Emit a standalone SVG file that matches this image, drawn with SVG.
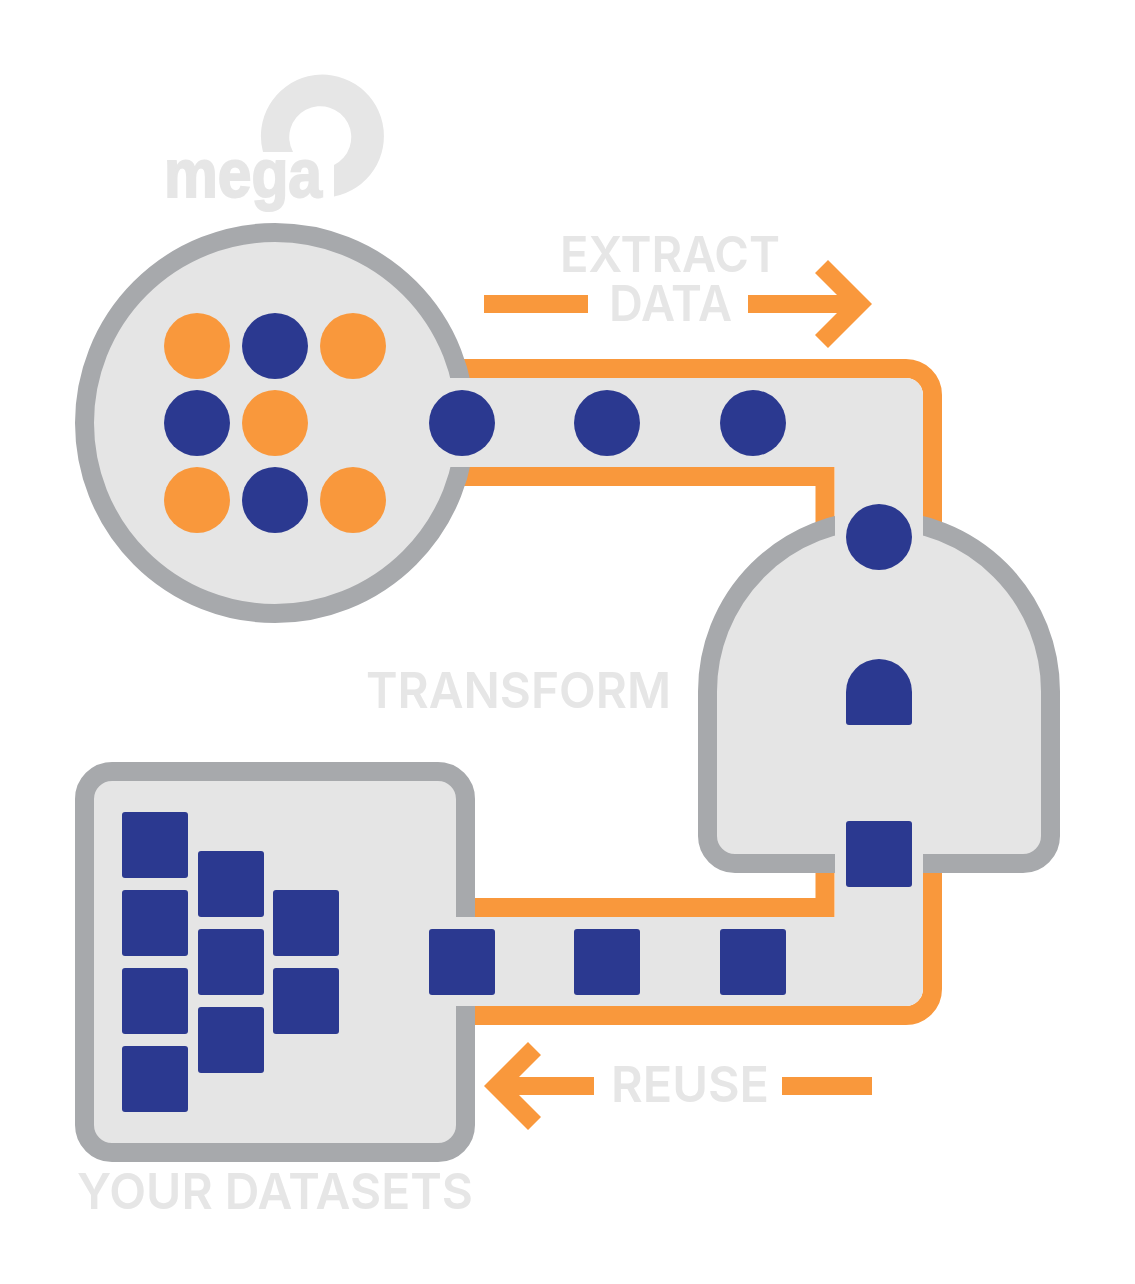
<svg xmlns="http://www.w3.org/2000/svg" width="1135" height="1284" viewBox="0 0 1135 1284">
<style>
.o{fill:none;stroke:#F9983C;stroke-width:19}
.ring{fill:#E5E5E5;stroke:#A7A9AC;stroke-width:19}
.fill{fill:#E5E5E5}
.n{fill:#2B3990}
.p{fill:#F9983C}
.t{font-family:"Inter","Open Sans","Liberation Sans",sans-serif;font-weight:600;font-size:50px;fill:#E6E6E6}
</style>
<rect width="1135" height="1284" fill="#fff"/>
<g id="logo">
<path fill="#E6E6E6" d="M263 152A61.500 61.500 0 1 1 334 196.500V165A31 31 0 1 0 293 152Z"/>
<text x="164" y="197" textLength="158" lengthAdjust="spacingAndGlyphs" font-family="Liberation Sans, sans-serif" font-weight="700" font-size="68" fill="#E6E6E6" stroke="#E6E6E6" stroke-width="2">mega</text>
</g>
<g id="connectors">
<path class="o" d="M450 368.500H906A26.500 26.500 0 0 1 932.500 395V535"/>
<path class="o" d="M450 476.500H825V535"/>
<path class="o" d="M465 907.500H825V860"/>
<path class="o" d="M465 1015.500H906A26.500 26.500 0 0 0 932.500 989V860"/>
<path class="p" id="extract-arrow" d="M748 295H837L815 273L828 260L872 304L828 348L815 335L837 313H748Z"/>
<rect class="p" x="484" y="295" width="104" height="18"/>
<path class="p" id="reuse-arrow" d="M594 1077H519L541 1055L528 1042L484 1086L528 1130L541 1117L519 1095H594Z"/>
<rect class="p" x="782" y="1077" width="90" height="18"/>
</g>
<g id="source">
<circle class="ring" cx="275" cy="423" r="190.500"/>
</g>
<g id="transform-shape">
<path class="ring" d="M707.500 691.500A171.500 171.500 0 0 1 1050.500 691.500V836A27.500 27.500 0 0 1 1023 863.500H735A27.500 27.500 0 0 1 707.500 836Z"/>
</g>
<g id="datasets-shape">
<rect class="ring" x="84.500" y="771.500" width="381" height="381" rx="27.500"/>
</g>
<g id="channels">
<path class="fill" d="M440 378H906A17 17 0 0 1 923 395V545H835V467H440Z"/>
<path class="fill" d="M440 917H835V845H923V989A17 17 0 0 1 906 1006H440Z"/>
</g>
<g id="source-dots">
<circle class="p" cx="197" cy="346" r="33"/><circle class="n" cx="275" cy="346" r="33"/><circle class="p" cx="353" cy="346" r="33"/>
<circle class="n" cx="197" cy="423" r="33"/><circle class="p" cx="275" cy="423" r="33"/>
<circle class="p" cx="197" cy="500" r="33"/><circle class="n" cx="275" cy="500" r="33"/><circle class="p" cx="353" cy="500" r="33"/>
</g>
<g id="extract-dots">
<circle class="n" cx="462" cy="423" r="33"/><circle class="n" cx="607" cy="423" r="33"/><circle class="n" cx="753" cy="423" r="33"/>
<circle class="n" cx="879" cy="537" r="33"/>
</g>
<g id="transform-token">
<path class="n" d="M846 692A33 33 0 0 1 912 692V722A3 3 0 0 1 909 725H849A3 3 0 0 1 846 722Z"/>
<rect class="n" x="846" y="821" width="66" height="66" rx="3"/>
</g>
<g id="reuse-squares">
<rect class="n" x="429" y="929" width="66" height="66" rx="3"/>
<rect class="n" x="574" y="929" width="66" height="66" rx="3"/>
<rect class="n" x="720" y="929" width="66" height="66" rx="3"/>
</g>
<g id="dataset-squares">
<rect class="n" x="122" y="812" width="66" height="66" rx="3"/>
<rect class="n" x="122" y="890" width="66" height="66" rx="3"/>
<rect class="n" x="122" y="968" width="66" height="66" rx="3"/>
<rect class="n" x="122" y="1046" width="66" height="66" rx="3"/>
<rect class="n" x="198" y="851" width="66" height="66" rx="3"/>
<rect class="n" x="198" y="929" width="66" height="66" rx="3"/>
<rect class="n" x="198" y="1007" width="66" height="66" rx="3"/>
<rect class="n" x="273" y="890" width="66" height="66" rx="3"/>
<rect class="n" x="273" y="968" width="66" height="66" rx="3"/>
</g>
<g id="labels">
<text class="t" x="560" y="272" textLength="220" lengthAdjust="spacingAndGlyphs">EXTRACT</text>
<text class="t" x="609" y="321" textLength="123" lengthAdjust="spacingAndGlyphs">DATA</text>
<text class="t" x="366" y="708" textLength="305" lengthAdjust="spacingAndGlyphs">TRANSFORM</text>
<text class="t" x="611" y="1102" textLength="158" lengthAdjust="spacingAndGlyphs">REUSE</text>
<text class="t" x="77" y="1209" textLength="396" lengthAdjust="spacingAndGlyphs">YOUR DATASETS</text>
</g>
</svg>
